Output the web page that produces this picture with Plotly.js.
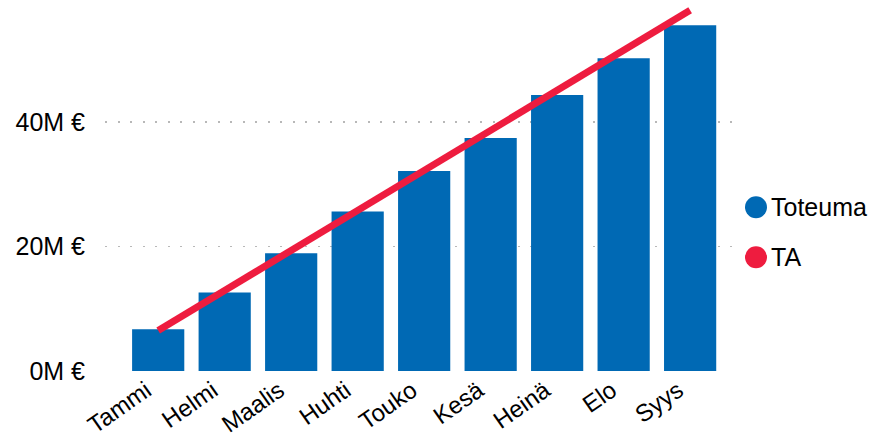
<!DOCTYPE html>
<html>
<head>
<meta charset="utf-8">
<script src="https://cdn.plot.ly/plotly-3.0.1.min.js"></script>
<style>html,body{margin:0;padding:0;background:#fff;}#chart{width:870px;height:440px;}</style>
</head>
<body>
<div id="chart"></div>
<script>
const months = ["Tammi","Helmi","Maalis","Huhti","Touko","Kesä","Heinä","Elo","Syys"];
const toteuma = [6.7, 12.6, 18.9, 25.6, 32.1, 37.4, 44.3, 50.2, 55.5];
const ta = [6.5, 12.9, 19.3, 25.7, 32.2, 38.6, 45.0, 51.5, 57.9];
const yTicks = [0, 20, 40];
const yTickText = ["0M €", "20M €", "40M €"];
const seriesNames = ["Toteuma", "TA"];
const colors = ["#0069B4", "#EE1C3F"];

const font = "Arial, 'Liberation Sans', sans-serif";

const traces = [
  {type: "bar", x: months, y: toteuma, name: seriesNames[0], marker: {color: colors[0]}, showlegend: false, hoverinfo: "x+y"},
  {type: "scatter", mode: "lines", x: months, y: ta, name: seriesNames[1], line: {color: colors[1], width: 7}, cliponaxis: false, showlegend: false}
];

const shapes = [];
const annotations = [];
seriesNames.forEach((n, i) => {
  const yPix = [207, 257][i];
  shapes.push({type: "circle", xref: "paper", yref: "paper", xsizemode: "pixel", ysizemode: "pixel",
    xanchor: 1, yanchor: 0, x0: 5, x1: 27, y0: (370.7 - yPix) - 11, y1: (370.7 - yPix) + 11,
    fillcolor: colors[i], line: {width: 0}});
  annotations.push({xref: "paper", yref: "paper", x: 1, y: 0, xanchor: "left", yanchor: "middle",
    xshift: 29, yshift: 370.7 - yPix, text: n, showarrow: false, font: {family: font, size: 25, color: "#000"}});
});

const layout = {
  width: 870, height: 440,
  margin: {l: 105, r: 130, t: 5, b: 69},
  paper_bgcolor: "#fff", plot_bgcolor: "#fff",
  font: {family: font, size: 24, color: "#000"},
  bargap: 0.215,
  showlegend: false,
  xaxis: {
    type: "category", range: [-0.8, 8.75], tickangle: -35,
    showgrid: false, zeroline: false, showline: false, ticks: "",
    ticklabelstandoff: 0, ticklabelshift: -12,
    tickfont: {family: font, size: 24, color: "#000"}
  },
  yaxis: {
    range: [0, 58.75], tickvals: yTicks, ticktext: yTickText,
    showgrid: true, gridcolor: "#b8b8b8", gridwidth: 1.5, griddash: "2px,10.5px",
    zeroline: false, showline: false, ticks: "", ticklabelstandoff: 19,
    tickfont: {family: font, size: 25, color: "#000"}
  },
  shapes: shapes,
  annotations: annotations
};

Plotly.newPlot("chart", traces, layout, {displayModeBar: false, staticPlot: true});
</script>
</body>
</html>
